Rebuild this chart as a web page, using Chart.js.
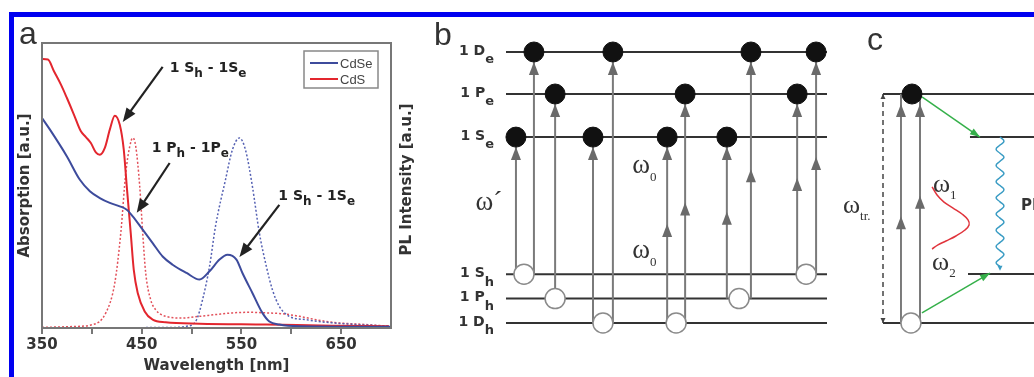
<!DOCTYPE html>
<html>
<head>
<meta charset="utf-8">
<script src="https://cdn.jsdelivr.net/npm/chart.js@4.4.0/dist/chart.umd.min.js"></script>
<style>
  html, body { margin: 0; padding: 0; background: #fff; }
  #wrap { position: relative; width: 1034px; height: 377px; overflow: hidden; background: #fff; }
  canvas { position: absolute; top: 0; }
  #frame { position: absolute; left: 9px; top: 12px; width: 1100px; height: 400px;
           border-top: 5px solid #0000f0; border-left: 5px solid #0000f0; pointer-events: none; }
</style>
</head>
<body>
<div id="wrap">
  <canvas id="chartA" width="420" height="377" style="left:0"></canvas>
  <canvas id="chartB" width="420" height="377" style="left:420px"></canvas>
  <canvas id="chartC" width="194" height="377" style="left:840px"></canvas>
  <div id="frame"></div>
</div>
<script>
// ---- panel a : spectra ----
const cdsAbsWl  = [350, 356, 362, 369, 375, 382, 389, 394, 399, 404, 408, 413, 418, 423, 428, 432, 435, 439, 442, 446, 453, 461, 474, 508, 575, 641, 698];
const cdsAbsVal = [94.4, 94.2, 90.1, 85.4, 80.7, 74.9, 69.0, 67.0, 64.9, 61.6, 60.8, 63.2, 69.6, 74.5, 71.3, 62.6, 49.7, 33.3, 20.5, 12.3, 5.8, 2.9, 2.0, 1.5, 1.2, 0.8, 0.6];

const cdseAbsWl  = [350, 358, 375, 388, 398, 408, 418, 428, 435, 441, 451, 461, 471, 481, 495, 508, 518, 528, 536, 545, 551, 561, 571, 578, 588, 608, 700];
const cdseAbsVal = [73.7, 69.6, 60.2, 52.0, 48.0, 45.6, 43.9, 42.7, 41.5, 39.2, 34.5, 29.8, 25.1, 22.2, 19.3, 17.0, 19.9, 24.0, 25.7, 24.0, 19.3, 12.3, 5.3, 2.3, 1.2, 0.6, 0.4];

const cdsPlWl  = [350, 380, 401, 414, 423, 429, 434, 438, 441, 444, 448, 451, 454, 459, 464, 474, 491, 508, 524, 541, 558, 575, 591, 608, 625, 641, 675, 700];
const cdsPlVal = [0.2, 0.5, 1.2, 5.3, 15.8, 33.3, 54.4, 63.7, 66.7, 63.7, 49.7, 33.3, 19.3, 9.9, 6.4, 4.1, 3.5, 4.1, 4.7, 5.3, 5.5, 5.3, 5.0, 4.1, 2.9, 2.0, 1.2, 0.6];

const cdsePlWl  = [350, 480, 495, 505, 511, 518, 524, 534, 541, 548, 554, 561, 568, 575, 581, 588, 598, 615, 641, 700];
const cdsePlVal = [0.0, 0.2, 0.6, 2.9, 9.9, 21.6, 35.7, 52.0, 62.6, 66.7, 62.6, 49.7, 33.3, 21.6, 13.5, 7.6, 4.1, 2.9, 1.8, 0.6];

const xTicks = [350, 400, 450, 500, 550, 600, 650];
const xTickLabels = [350, 450, 550, 650];

// ---- panel b : level scheme ----
const levelMain = ['1 D', '1 P', '1 S', '1 S', '1 P', '1 D'];
const levelSub = ['e', 'e', 'e', 'h', 'h', 'h'];
const levelEnergy = [10, 8.45, 6.86, 1.8, 0.9, 0];
const transX = [3.1, 8.7, 15.3, 27.1, 33.3, 50.2, 55.8, 68.8, 76.3, 90.7, 96.6];
const transFrom = [3, 3, 4, 5, 5, 5, 5, 4, 4, 3, 3];
const transTo = [2, 0, 1, 2, 0, 2, 1, 2, 0, 1, 0];
const transPhotons = [1, 1, 1, 1, 1, 2, 2, 2, 2, 2, 2];
const holeX = [5.6, 15.3, 30.2, 53, 72.6, 93.5];
const holeLevel = [3, 4, 5, 5, 4, 3];

// ---- panel c : two-photon scheme ----
const cLevelE = [10, 8.12, 2.14, 0];
const cLevelStart = [0, 57.6, 56.3, 0];
const cExciteX = [11.9, 24.5];
const cExciteMid = [4.4, 5.3];
const cElectron = [19.2, 10];
const cHole = [18.5, 0];
const greenX1 = [25.8, 25.8], greenY1 = [9.87, 0.44];
const greenX2 = [64.2, 70.9], greenY2 = [8.12, 2.18];
const pulseX = [32.5, 35.8, 40.4, 46.4, 52.3, 56.3, 57.0, 54.3, 48.3, 41.7, 36.4, 32.5];
const pulseY = [5.94, 5.59, 5.28, 5.02, 4.76, 4.50, 4.28, 4.06, 3.80, 3.58, 3.41, 3.23];
const waveX = [77.5, 80.1, 77.5, 74.9, 77.5, 80.1, 77.5, 74.9, 77.5, 80.1, 77.5, 74.9, 77.5, 80.1, 77.5, 74.9,
               77.5, 80.1, 77.5, 74.9, 77.5, 80.1, 77.5, 74.9, 77.5, 80.1, 77.5, 74.9, 77.5, 80.1, 77.5, 74.9, 77.5];
const waveY = [8.12, 7.94, 7.77, 7.59, 7.41, 7.24, 7.06, 6.88, 6.70, 6.53, 6.35, 6.17, 6.00, 5.82, 5.64, 5.47,
               5.29, 5.11, 4.93, 4.76, 4.58, 4.40, 4.23, 4.05, 3.87, 3.70, 3.52, 3.34, 3.16, 2.99, 2.81, 2.63, 2.46];

Chart.defaults.font.family = 'DejaVu Sans';
Chart.defaults.color = '#333';

const zip = (xs, ys) => xs.map((x, i) => ({ x: x, y: ys[i] }));

function partsWidth(ctx, parts, font, subFont) {
    let w = 0;
    parts.forEach(p => { ctx.font = p[1] ? subFont : font; w += ctx.measureText(p[0]).width; });
    return w;
}
function drawParts(ctx, x, y, parts, font, subFont, subShift) {
    let cx = x;
    parts.forEach(p => {
        ctx.font = p[1] ? subFont : font;
        ctx.fillText(p[0], cx, p[1] ? y + subShift : y);
        cx += ctx.measureText(p[0]).width;
    });
}
function arrowHead(ctx, x1, y1, x2, y2, len, half, color) {
    const a = Math.atan2(y2 - y1, x2 - x1);
    ctx.save();
    ctx.fillStyle = color;
    ctx.translate(x2, y2);
    ctx.rotate(a);
    ctx.beginPath();
    ctx.moveTo(0, 0);
    ctx.lineTo(-len, -half);
    ctx.lineTo(-len, half);
    ctx.closePath();
    ctx.fill();
    ctx.restore();
}

// ---------- panel a ----------
const annotations = [
    { parts: [['1 S', 0], ['h', 1], [' - 1S', 0], ['e', 1]], x: 478, y: 89.8, tail: [471, 91.6], tip: [431, 72.3] },
    { parts: [['1 P', 0], ['h', 1], [' - 1P', 0], ['e', 1]], x: 460, y: 61.8, tail: [478, 57.9], tip: [445, 40.4] },
    { parts: [['1 S', 0], ['h', 1], [' - 1S', 0], ['e', 1]], x: 587, y: 44.9, tail: [588, 43.2], tip: [548, 24.9] }
];

const panelAPlugin = {
    id: 'panelA',
    afterDatasetsDraw(chart) {
        const { ctx, chartArea: ca, scales: { x, y } } = chart;
        ctx.save();
        // plot frame
        ctx.strokeStyle = '#777';
        ctx.lineWidth = 2;
        ctx.strokeRect(ca.left, ca.top, ca.right - ca.left, ca.bottom - ca.top);

        // annotations
        ctx.fillStyle = '#222';
        ctx.strokeStyle = '#222';
        ctx.textBaseline = 'alphabetic';
        ctx.textAlign = 'left';
        annotations.forEach(a => {
            drawParts(ctx, x.getPixelForValue(a.x), y.getPixelForValue(a.y), a.parts,
                'bold 14px "DejaVu Sans"', 'bold 12px "DejaVu Sans"', 5);
            const x1 = x.getPixelForValue(a.tail[0]), y1 = y.getPixelForValue(a.tail[1]);
            const x2 = x.getPixelForValue(a.tip[0]), y2 = y.getPixelForValue(a.tip[1]);
            ctx.lineWidth = 2.2;
            ctx.beginPath();
            ctx.moveTo(x1, y1);
            ctx.lineTo(x1 + (x2 - x1) * 0.85, y1 + (y2 - y1) * 0.85);
            ctx.stroke();
            arrowHead(ctx, x1, y1, x2, y2, 14, 5.5, '#222');
        });

        // legend box
        const lx = ca.right - 87, ly = ca.top + 8;
        ctx.fillStyle = '#fff';
        ctx.fillRect(lx, ly, 74, 37);
        ctx.strokeStyle = '#888';
        ctx.lineWidth = 1.5;
        ctx.strokeRect(lx, ly, 74, 37);
        const legendSets = [chart.data.datasets[0], chart.data.datasets[1]];
        legendSets.forEach((ds, i) => {
            const yy = ly + 12 + i * 16;
            ctx.strokeStyle = ds.borderColor;
            ctx.lineWidth = 2;
            ctx.beginPath();
            ctx.moveTo(lx + 6, yy);
            ctx.lineTo(lx + 34, yy);
            ctx.stroke();
            ctx.fillStyle = '#444';
            ctx.font = '13px "Liberation Sans"';
            ctx.textBaseline = 'middle';
            ctx.fillText(ds.label, lx + 36, yy + 1);
        });

        // right axis title
        ctx.save();
        ctx.translate(407, (ca.top + ca.bottom) / 2 - 6);
        ctx.rotate(-Math.PI / 2);
        ctx.textAlign = 'center';
        ctx.textBaseline = 'middle';
        ctx.fillStyle = '#333';
        ctx.font = 'bold 15px "DejaVu Sans"';
        ctx.fillText('PL Intensity [a.u.]', 0, 0);
        ctx.restore();

        // panel letter
        ctx.fillStyle = '#333';
        ctx.font = '32px "Liberation Sans"';
        ctx.textAlign = 'left';
        ctx.textBaseline = 'alphabetic';
        ctx.fillText('a', 19, 44);
        ctx.restore();
    }
};

new Chart(document.getElementById('chartA'), {
    type: 'scatter',
    data: {
        datasets: [
            { label: 'CdSe', data: zip(cdseAbsWl, cdseAbsVal), borderColor: '#3d4b9c', borderWidth: 2 },
            { label: 'CdS', data: zip(cdsAbsWl, cdsAbsVal), borderColor: '#e3262e', borderWidth: 2 },
            { label: 'CdSe PL', data: zip(cdsePlWl, cdsePlVal), borderColor: '#5561b3', borderWidth: 1.5, borderDash: [2, 2] },
            { label: 'CdS PL', data: zip(cdsPlWl, cdsPlVal), borderColor: '#e2505a', borderWidth: 1.5, borderDash: [2, 2] }
        ].map(d => Object.assign(d, { showLine: true, pointRadius: 0, cubicInterpolationMode: 'monotone', fill: false }))
    },
    options: {
        responsive: false,
        animation: false,
        layout: { autoPadding: false, padding: { left: 13, right: 1, top: 43, bottom: 0 } },
        plugins: { legend: { display: false }, tooltip: { enabled: false } },
        scales: {
            x: {
                type: 'linear', min: 350, max: 700,
                afterBuildTicks: axis => { axis.ticks = xTicks.map(v => ({ value: v })); },
                afterFit: axis => { axis.height = 49; },
                ticks: {
                    autoSkip: false, maxRotation: 0, padding: 2,
                    font: { size: 15, weight: 'bold' }, color: '#333',
                    callback: v => xTickLabels.includes(v) ? String(v) : ''
                },
                grid: { drawOnChartArea: false, tickLength: 6, color: '#777', lineWidth: 2 },
                border: { display: false },
                title: { display: true, text: 'Wavelength [nm]', font: { size: 15, weight: 'bold' }, color: '#333', padding: { top: 0, bottom: 2 } }
            },
            y: {
                min: 0, max: 100,
                afterFit: axis => { axis.width = 29; },
                ticks: { display: false },
                grid: { display: false },
                border: { display: false },
                title: { display: true, text: 'Absorption [a.u.]', font: { size: 15, weight: 'bold' }, color: '#333', padding: { top: 3, bottom: 4 } }
            },
            y2: {
                position: 'right', min: 0, max: 100,
                afterFit: axis => { axis.width = 28; },
                ticks: { display: false },
                grid: { display: false },
                border: { display: false }
            }
        }
    },
    plugins: [panelAPlugin]
});

// ---------- panel b ----------
const bDatasets = [];
levelEnergy.forEach(e => bDatasets.push({
    data: [{ x: 0, y: e }, { x: 100, y: e }], borderColor: '#333', borderWidth: 2, order: 4
}));
transX.forEach((tx, i) => bDatasets.push({
    data: [{ x: tx, y: levelEnergy[transFrom[i]] }, { x: tx, y: levelEnergy[transTo[i]] }],
    borderColor: '#7a7a7a', borderWidth: 2, order: 3
}));
bDatasets.push({
    data: transX.map((tx, i) => ({ x: tx, y: levelEnergy[transTo[i]] })),
    showLine: false, pointRadius: 10, pointBackgroundColor: '#111', pointBorderColor: '#111', order: 1
});
bDatasets.push({
    data: holeX.map((hx, i) => ({ x: hx, y: levelEnergy[holeLevel[i]] })),
    showLine: false, pointRadius: 10, pointBackgroundColor: '#fff', pointBorderColor: '#8a8a8a', pointBorderWidth: 1.5, order: 1
});
bDatasets.forEach(d => { d.clip = false; if (d.showLine !== false) { d.showLine = true; d.pointRadius = 0; } });

const bLabels = [
    { parts: [['\u03c9', 0], ['\u00b4', 0]], x: -9.5, y: 4.17 },
    { parts: [['\u03c9', 0], ['0', 1]], x: 39.3, y: 5.54 },
    { parts: [['\u03c9', 0], ['0', 1]], x: 39.3, y: 2.40 }
];

const panelBPlugin = {
    id: 'panelB',
    afterDatasetsDraw(chart) {
        const { ctx, chartArea: ca, scales: { x, y } } = chart;
        ctx.save();
        // arrow heads
        transX.forEach((tx, i) => {
            const px = x.getPixelForValue(tx);
            const yTop = y.getPixelForValue(levelEnergy[transTo[i]]) + 10;
            arrowHead(ctx, px, yTop + 20, px, yTop, 13, 5, '#6a6a6a');
            if (transPhotons[i] === 2) {
                const mid = (y.getPixelForValue(levelEnergy[transFrom[i]]) + y.getPixelForValue(levelEnergy[transTo[i]])) / 2 - 6;
                arrowHead(ctx, px, mid + 20, px, mid, 13, 5, '#6a6a6a');
            }
        });
        // level labels
        ctx.fillStyle = '#333';
        ctx.textBaseline = 'middle';
        ctx.textAlign = 'left';
        levelEnergy.forEach((e, i) => {
            const parts = [[levelMain[i], 0], [levelSub[i], 1]];
            const w = partsWidth(ctx, parts, 'bold 14px "DejaVu Sans"', 'bold 13px "DejaVu Sans"');
            drawParts(ctx, ca.left - 12 - w, y.getPixelForValue(e) - 1, parts,
                'bold 14px "DejaVu Sans"', 'bold 13px "DejaVu Sans"', 9);
        });
        // omega labels
        ctx.textBaseline = 'alphabetic';
        bLabels.forEach(l => {
            drawParts(ctx, x.getPixelForValue(l.x), y.getPixelForValue(l.y), l.parts,
                '27px "Liberation Serif"', '13px "Liberation Serif"', 8);
        });
        ctx.font = '32px "Liberation Sans"';
        ctx.fillText('b', 14, 45);
        ctx.restore();
    }
};

new Chart(document.getElementById('chartB'), {
    type: 'scatter',
    data: { datasets: bDatasets },
    options: {
        responsive: false,
        animation: false,
        layout: { autoPadding: false, padding: { left: 86, right: 13, top: 52, bottom: 54 } },
        plugins: { legend: { display: false }, tooltip: { enabled: false } },
        scales: {
            x: { min: 0, max: 100, display: false },
            y: { min: 0, max: 10, display: false }
        }
    },
    plugins: [panelBPlugin]
});

// ---------- panel c ----------
const cDatasets = [];
cLevelE.forEach((e, i) => cDatasets.push({
    data: [{ x: cLevelStart[i], y: e }, { x: 100, y: e }], borderColor: '#333', borderWidth: 2, order: 4
}));
cDatasets.push({
    data: [{ x: 0, y: 0 }, { x: 0, y: 10 }], borderColor: '#444', borderWidth: 1.5, borderDash: [5, 4], order: 4
});
cExciteX.forEach(cx => cDatasets.push({
    data: [{ x: cx, y: 0 }, { x: cx, y: 10 }], borderColor: '#7a7a7a', borderWidth: 2, order: 3
}));
greenX1.forEach((gx, i) => cDatasets.push({
    data: [{ x: gx, y: greenY1[i] }, { x: greenX2[i], y: greenY2[i] }], borderColor: '#35b04a', borderWidth: 1.5, order: 3
}));
cDatasets.push({ data: zip(pulseX, pulseY), borderColor: '#e0343c', borderWidth: 1.5, tension: 0.4, order: 3 });
cDatasets.push({ data: zip(waveX, waveY), borderColor: '#3a9cc4', borderWidth: 1.5, tension: 0.45, order: 3 });
cDatasets.push({
    data: [{ x: cElectron[0], y: cElectron[1] }], showLine: false, pointRadius: 10,
    pointBackgroundColor: '#111', pointBorderColor: '#111', order: 1
});
cDatasets.push({
    data: [{ x: cHole[0], y: cHole[1] }], showLine: false, pointRadius: 10,
    pointBackgroundColor: '#fff', pointBorderColor: '#8a8a8a', pointBorderWidth: 1.5, order: 1
});
cDatasets.forEach(d => { d.clip = false; if (d.showLine !== false) { d.showLine = true; d.pointRadius = 0; } });

const cLabels = [
    { parts: [['\u03c9', 0], ['tr.', 1]], x: -26.5, y: 4.80 },
    { parts: [['\u03c9', 0], ['1', 1]], x: 33.1, y: 5.72 },
    { parts: [['\u03c9', 0], ['2', 1]], x: 32.5, y: 2.31 }
];

const panelCPlugin = {
    id: 'panelC',
    afterDatasetsDraw(chart) {
        const { ctx, scales: { x, y } } = chart;
        ctx.save();
        const yTop = y.getPixelForValue(10) + 10;
        cExciteX.forEach((cx, i) => {
            const px = x.getPixelForValue(cx);
            arrowHead(ctx, px, yTop + 20, px, yTop, 13, 5, '#6a6a6a');
            const mid = y.getPixelForValue(cExciteMid[i]) - 6;
            arrowHead(ctx, px, mid + 20, px, mid, 13, 5, '#6a6a6a');
        });
        // dashed double arrow
        const dx = x.getPixelForValue(0);
        arrowHead(ctx, dx, y.getPixelForValue(5), dx, y.getPixelForValue(10), 5, 2.5, '#444');
        arrowHead(ctx, dx, y.getPixelForValue(5), dx, y.getPixelForValue(0), 5, 2.5, '#444');
        // green relaxation heads
        greenX1.forEach((gx, i) => {
            arrowHead(ctx, x.getPixelForValue(gx), y.getPixelForValue(greenY1[i]),
                x.getPixelForValue(greenX2[i]), y.getPixelForValue(greenY2[i]), 10, 3.5, '#35b04a');
        });
        // PL wave head
        const wx = x.getPixelForValue(waveX[waveX.length - 1]);
        const wy = y.getPixelForValue(waveY[waveY.length - 1]);
        arrowHead(ctx, wx, wy - 5, wx, wy + 4, 5, 2.5, '#3a9cc4');

        ctx.fillStyle = '#333';
        ctx.textAlign = 'left';
        ctx.textBaseline = 'alphabetic';
        cLabels.forEach(l => {
            drawParts(ctx, x.getPixelForValue(l.x), y.getPixelForValue(l.y), l.parts,
                '26px "Liberation Serif"', '13px "Liberation Serif"', 7);
        });
        ctx.font = 'bold 15px "DejaVu Sans"';
        ctx.textBaseline = 'middle';
        ctx.fillText('PL', x.getPixelForValue(91.4), y.getPixelForValue(5.11));
        ctx.font = '32px "Liberation Sans"';
        ctx.textBaseline = 'alphabetic';
        ctx.fillText('c', 27, 50);
        ctx.restore();
    }
};

new Chart(document.getElementById('chartC'), {
    type: 'scatter',
    data: { datasets: cDatasets },
    options: {
        responsive: false,
        animation: false,
        layout: { autoPadding: false, padding: { left: 43, right: 0, top: 94, bottom: 54 } },
        plugins: { legend: { display: false }, tooltip: { enabled: false } },
        scales: {
            x: { min: 0, max: 100, display: false },
            y: { min: 0, max: 10, display: false }
        }
    },
    plugins: [panelCPlugin]
});
</script>
</body>
</html>
